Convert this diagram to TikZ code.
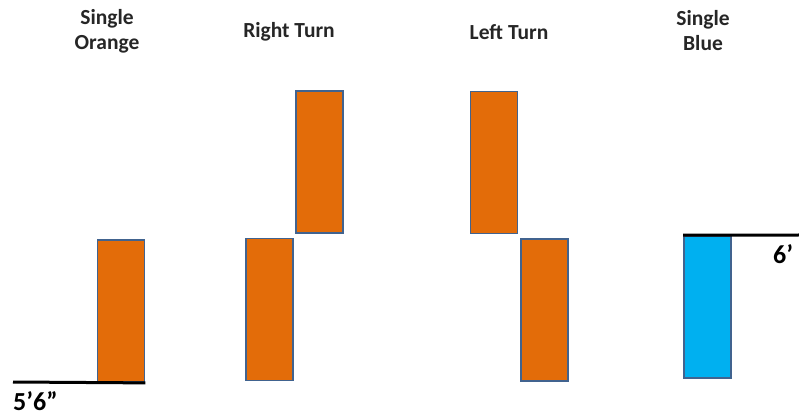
\documentclass[tikz,border=0pt]{standalone}
\usepackage{fontspec}
\setmainfont{Carlito}
\usetikzlibrary{positioning}

\definecolor{barorange}{HTML}{E36C09}
\definecolor{barblue}{HTML}{00B0F0}
\definecolor{barline}{HTML}{41638F}

\begin{document}
\begin{tikzpicture}[
x=1pt, y=-1pt,
bar/.style={
draw=barline,
line width=1.8pt,
fill=barorange,
minimum width=47pt,
minimum height=142pt,
inner sep=0pt
},
heading/.style={
font=\fontsize{21.5}{25}\selectfont\bfseries,
align=center,
text=black!85
},
height/.style={
font=\fontsize{26}{28}\selectfont\bfseries,
inner sep=0pt
}
]
\useasboundingbox (0,0) rectangle (799,419);
\clip (0,0) rectangle (799,419);

% headings
\node[heading] (hsingleorange) at (107,31) {Single\\Orange};
\node[heading] (hright) at (289,32) {Right Turn};
\node[heading] (hleft) at (509,32) {Left Turn};
\node[heading] (hsingleblue) at (703,31) {Single\\Blue};

% single orange
\node[bar] (single) at (121,311) {};
\coordinate (floor) at (13,382);
\draw[line width=3pt] (floor) -- (single.south east);
\node[height, anchor=north west] (low) at (13,391) {5’6”};

% right turn
\node[bar] (rtlow) at (269.5,309.5) {};
\node[bar, above right=4pt and 1pt of rtlow] (rtup) {};

% left turn
\node[bar] (ltup) at (494,162.5) {};
\node[bar, below right=4pt and 2pt of ltup] (ltlow) {};

% single blue
\node[bar, fill=barblue] (blue) at (707.5,307) {};
\coordinate (ceiling) at (799,235);
\draw[line width=3pt] (blue.north west) -- (ceiling);
\node[height, anchor=north west] (high) at (773,244) {6’};

\end{tikzpicture}
\end{document}
